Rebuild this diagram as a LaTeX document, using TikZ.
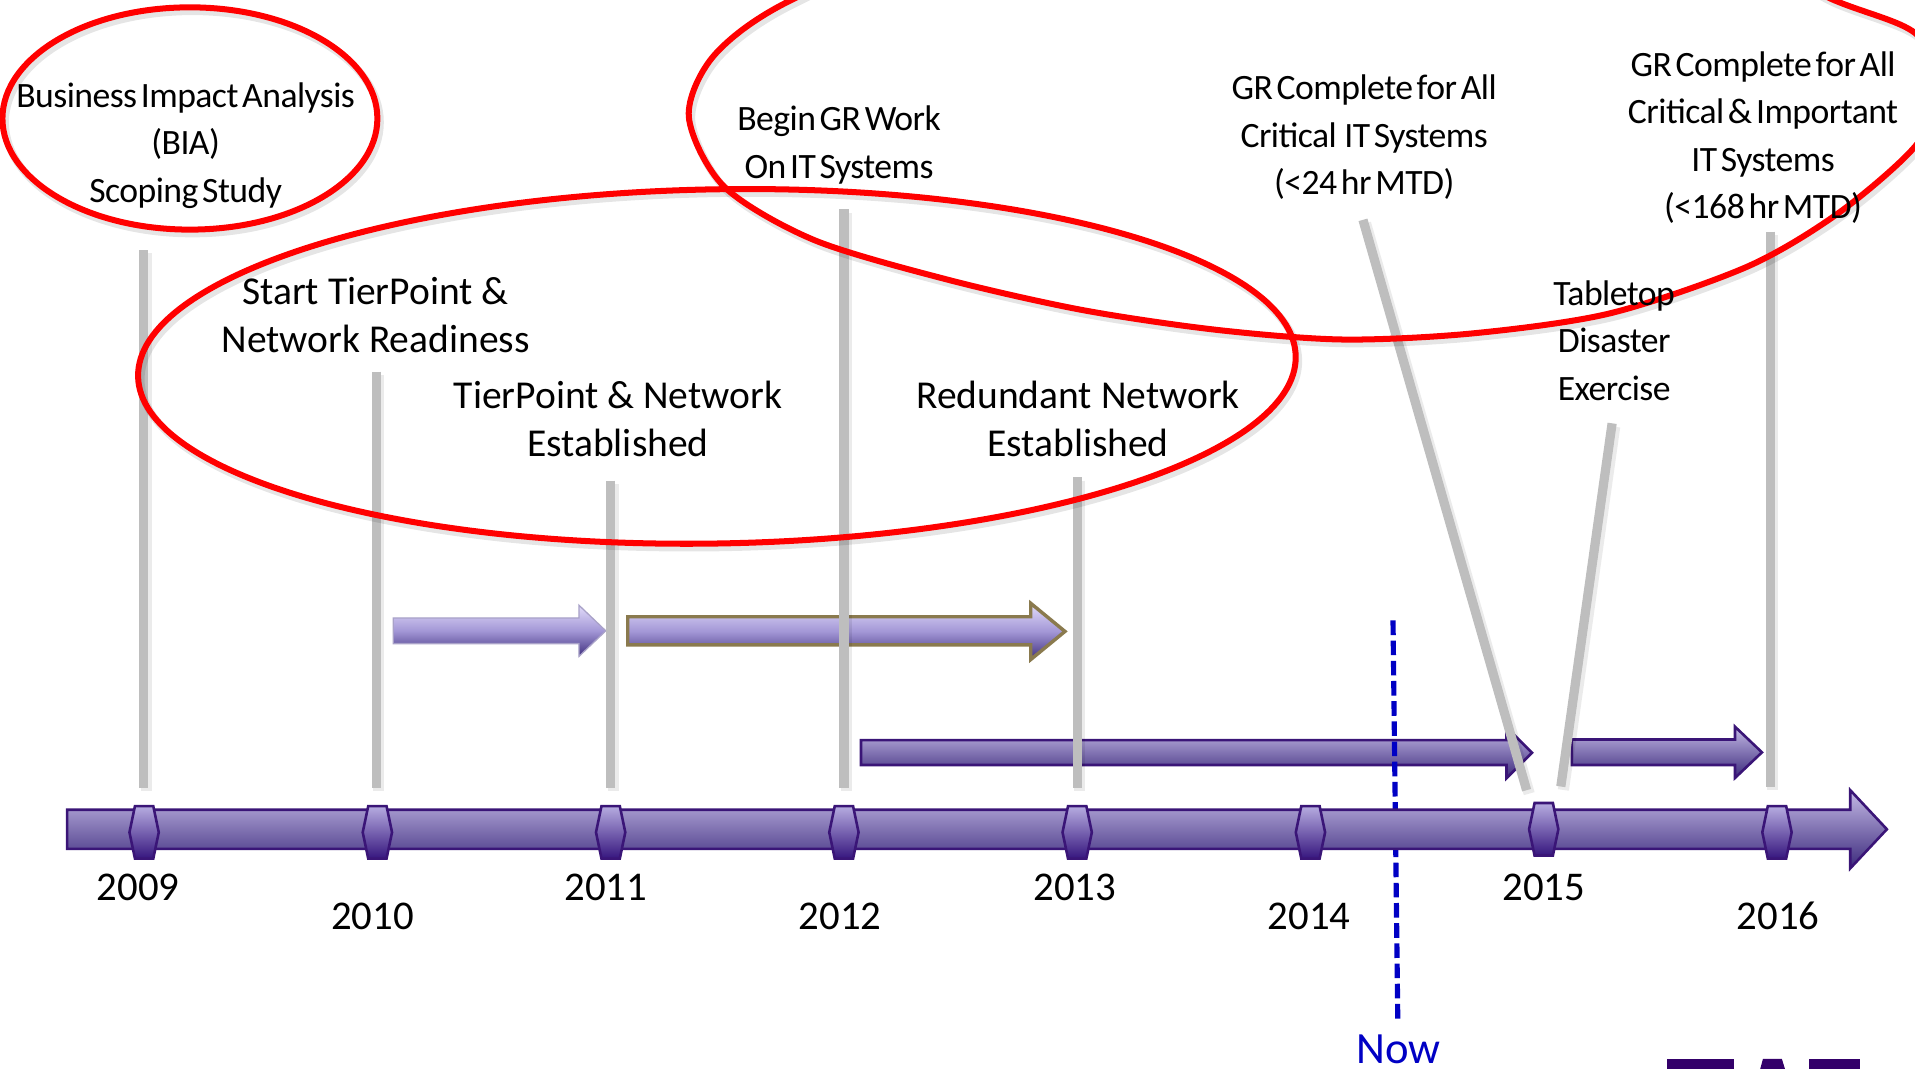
\documentclass[tikz,border=0pt]{standalone}
\usepackage{fontspec}
\setmainfont{Carlito}
\newfontfamily\condfont[LetterSpace=-1.5,WordSpace=0.5]{Carlito}
\definecolor{barline}{HTML}{3A1577}
\definecolor{bartop}{HTML}{C4BAE6}
\definecolor{barbot}{HTML}{3C2A7C}
\definecolor{hextop}{HTML}{B6ACE0}
\definecolor{hexbot}{HTML}{36167E}
\definecolor{glosstop}{HTML}{E2DCFA}
\definecolor{glossmid}{HTML}{A397D6}
\definecolor{glossbot}{HTML}{3F2F7E}
\definecolor{glossedge}{HTML}{A9A2C8}
\definecolor{oliveedge}{HTML}{8A7A4E}
\definecolor{stemgray}{HTML}{BEBEBE}
\definecolor{nowblue}{HTML}{0000C4}
\definecolor{logopurple}{HTML}{34006A}
\begin{document}
\begin{tikzpicture}[x=0.01cm,y=-0.01cm,
  reg/.style={font=\fontsize{9.2}{11.07}\selectfont, align=center, inner sep=0pt},
  cnd/.style={font=\condfont\fontsize{8.3}{11.07}\selectfont, align=center, inner sep=0pt},
  yr/.style={font=\fontsize{9.5}{11.5}\selectfont, inner sep=0pt},
  nowtxt/.style={font=\fontsize{10.4}{12}\selectfont, text=nowblue, inner sep=0pt},
  stem/.style={draw=stemgray, line width=2.15pt},
  stemshadow/.style={draw=black, draw opacity=0.08, line width=2.6pt},
  ring/.style={draw=red, line width=1.4pt},
  ringshadow/.style={draw=black, draw opacity=0.10, line width=1.8pt},
  band/.style={draw=barline, line width=0.6pt, top color=bartop, bottom color=barbot},
  hexmark/.style={draw=barline, line width=0.6pt, top color=hextop, bottom color=hexbot},
  gloss/.style={top color=glosstop, bottom color=glossbot, middle color=glossmid},
  nowline/.style={draw=nowblue, line width=1.2pt, dash pattern=on 3.4pt off 1.3pt},
]
\useasboundingbox (0,0) rectangle (1568,875);
\begin{scope}
\clip (0,0) rectangle (1568,875);

% upper arrows
\path[gloss, draw=glossedge, line width=0.3pt] (322,506) -- (474,506) -- (474,495.5) -- (496,516.5) -- (474,537.5) -- (474,527) -- (322,527) -- cycle;
\path[gloss, draw=oliveedge, line width=0.8pt] (514,505) -- (844,505) -- (844,494) -- (872,517) -- (844,540) -- (844,528) -- (514,528) -- cycle;
% lower arrows
\path[band] (705,606) -- (1233.5,606) -- (1233.5,595.5) -- (1254.4,616.3) -- (1233.5,637.3) -- (1233.5,626.4) -- (705,626.4) -- cycle;
\path[band] (1287,605.5) -- (1420.6,605.5) -- (1420.6,595) -- (1442.7,616) -- (1420.6,637) -- (1420.6,626.4) -- (1287,626.4) -- cycle;

% stems
\coordinate (s09t) at (117.7,204.7); \coordinate (s09b) at (117.7,645);
\coordinate (s10t) at (308,304.3);   \coordinate (s10b) at (308,645);
\coordinate (s11t) at (500,393.6);   \coordinate (s11b) at (500,645);
\coordinate (s12t) at (691,171.4);   \coordinate (s12b) at (691,645);
\coordinate (s13t) at (882,390.7);   \coordinate (s13b) at (882,645);
\coordinate (s15t) at (1116,180);    \coordinate (s15b) at (1250,647);
\coordinate (stbt) at (1320,346.6);  \coordinate (stbb) at (1278,644);
\coordinate (s16t) at (1449.5,189.7);\coordinate (s16b) at (1449.5,644);
\foreach \a/\b in {s09t/s09b,s10t/s10b,s11t/s11b,s12t/s12b,s13t/s13b,s15t/s15b,stbt/stbb,s16t/s16b}{
  \draw[stemshadow, transform canvas={xshift=0.6pt,yshift=-0.8pt}] (\a) -- (\b);
  \draw[stem] (\a) -- (\b);
}

% red rings
\begin{scope}[transform canvas={xshift=0.6pt,yshift=-0.9pt}]
\draw[ringshadow] (155.5,97) ellipse [x radius=153.5, y radius=91];
\draw[ringshadow, rotate around={1:(587,300)}] (587,300) ellipse [x radius=474, y radius=145];
\draw[ringshadow] plot[smooth cycle] coordinates {(564,95.5) (593,152.9) (666.5,196.5) (776,229) (886,253.8) (995.5,270) (1100,278) (1206.6,272.9) (1318.5,256.5) (1430.5,218.4) (1505,174.7) (1568,120) (1592,72) (1568,27) (1501.5,0) (1400,-45) (1100,-95) (800,-60) (648,0) (585,45)};
\end{scope}
\draw[ring] (155.5,97) ellipse [x radius=153.5, y radius=91];
\draw[ring, rotate around={1:(587,300)}] (587,300) ellipse [x radius=474, y radius=145];
\draw[ring] plot[smooth cycle] coordinates {(564,95.5) (593,152.9) (666.5,196.5) (776,229) (886,253.8) (995.5,270) (1100,278) (1206.6,272.9) (1318.5,256.5) (1430.5,218.4) (1505,174.7) (1568,120) (1592,72) (1568,27) (1501.5,0) (1400,-45) (1100,-95) (800,-60) (648,0) (585,45)};

% labels
\node[cnd] (bia) at (152,119) {Business Impact Analysis\\(BIA)\\Scoping Study};
\node[reg] (start) at (307.5,258) {Start TierPoint \&\\Network Readiness};
\node[reg] (tpest) at (506,343) {TierPoint \& Network\\Established};
\node[cnd] (begin) at (687,118.6) {Begin GR Work\\On IT Systems};
\node[reg] (redund) at (882.7,343) {Redundant Network\\Established};
\node[cnd] (grcrit) at (1117,112.3) {GR Complete for All\\Critical~ IT Systems\\(<24 hr MTD)};
\node[cnd] (grall) at (1443.6,112.6) {GR Complete for All\\Critical \& Important\\IT Systems\\(<168 hr MTD)};
\node[cnd] (table) at (1321.7,278.8) {Tabletop\\Disaster\\Exercise};

% now line
\coordinate (nowtop) at (1140.6,508);
\coordinate (nowbot) at (1144.5,834);
\draw[nowline] (nowtop) -- (nowbot);
\node[nowtxt] (now) at (1145,859) {Now};

% timeline bar
\path[band] (55,663) -- (1515,663) -- (1515,647) -- (1545,679) -- (1515,711) -- (1515,695) -- (55,695) -- cycle;
\foreach \x/\d in {118/0,309/0,500/0,691/0,882/0,1073/0,1264/-2.5,1455/0}
  \path[hexmark] (\x-7.5,660+\d) -- (\x+7.5,660+\d) -- (\x+12,681.5+\d) -- (\x+7.5,703+\d) -- (\x-7.5,703+\d) -- (\x-12,681.5+\d) -- cycle;

% years
\node[yr] (y2009) at (113,727) {2009};
\node[yr] (y2010) at (305,750) {2010};
\node[yr] (y2011) at (496,727) {2011};
\node[yr] (y2012) at (688,750) {2012};
\node[yr] (y2013) at (880,727) {2013};
\node[yr] (y2014) at (1072,750) {2014};
\node[yr] (y2015) at (1264,727) {2015};
\node[yr] (y2016) at (1456,750) {2016};

% cropped logo letters
\fill[logopurple] (1365,867) rectangle (1420,880);
\fill[logopurple] (1440,880) -- (1443.5,867) -- (1459,867) -- (1463,880) -- cycle;
\fill[logopurple] (1481,867) rectangle (1523,880);
\end{scope}
\end{tikzpicture}
\end{document}
